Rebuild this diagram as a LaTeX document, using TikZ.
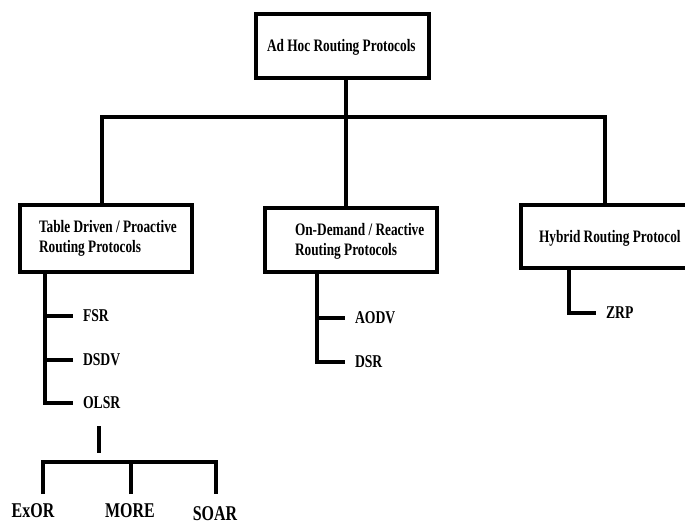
\documentclass[tikz,border=0pt]{standalone}
\usepackage{fontspec}
\setmainfont[FakeStretch=0.76]{Liberation Serif}
\begin{document}
\begin{tikzpicture}[x=1pt,y=-1pt,line width=4pt,
  box/.style={draw,line width=4pt,inner sep=0pt,fill=white},
  lbl/.style={font=\bfseries\fontsize{17.5}{20}\selectfont,inner sep=0pt,align=left},
  leaf/.style={font=\bfseries\fontsize{18}{20}\selectfont,inner ysep=0pt,inner xsep=8pt,anchor=west},
  bot/.style={font=\bfseries\fontsize{21}{24}\selectfont,inner sep=0pt,anchor=base}]
\useasboundingbox (0,0) rectangle (685,526);
\begin{scope}
\clip (0,0) rectangle (685,526);
% boxes
\node[box,minimum width=173pt,minimum height=64pt] (top) at (342,46) {};
\node[box,minimum width=172pt,minimum height=67pt] (tbl) at (106,238.5) {};
\node[box,minimum width=172pt,minimum height=64pt] (ond) at (351,240) {};
\node[box,minimum width=175pt,minimum height=63pt] (hyb) at (608.5,236.5) {};
\end{scope}
% box labels
\node[lbl,anchor=base west] (topt) at (265,52) {Ad Hoc Routing Protocols};
\node[lbl,anchor=base west] (tblt1) at (37,233) {Table Driven / Proactive};
\node[lbl,anchor=base west] (tblt2) at (37,253) {Routing Protocols};
\node[lbl,anchor=base west] (ondt1) at (293,236) {On-Demand / Reactive};
\node[lbl,anchor=base west] (ondt2) at (293,256) {Routing Protocols};
\node[lbl,anchor=base west] (hybt) at (537,243) {Hybrid Routing Protocol};
% bus
\coordinate (bl) at (102,117);
\coordinate (bm) at (346,117);
\coordinate (br) at (605,117);
\draw (top.south -| bm) -- (bm);
\draw (tbl.north -| bl) |- (br) -- (hyb.north -| br);
\draw (bm) -- (ond.north -| bm);
% left subtree
\node[leaf] (fsr) at (73,316) {FSR};
\node[leaf] (dsdv) at (73,360) {DSDV};
\node[leaf] (olsr) at (73,403) {OLSR};
\coordinate (ls) at (45,0);
\draw (tbl.south -| ls) |- (olsr.west);
\draw (fsr.west -| ls) -- (fsr.west);
\draw (dsdv.west -| ls) -- (dsdv.west);
% middle subtree
\node[leaf] (aodv) at (345,318) {AODV};
\node[leaf] (dsr) at (345,362) {DSR};
\coordinate (ms) at (317,0);
\draw (ond.south -| ms) |- (dsr.west);
\draw (aodv.west -| ms) -- (aodv.west);
% right subtree
\node[leaf] (zrp) at (596,313) {ZRP};
\coordinate (rs) at (569,0);
\draw (hyb.south -| rs) |- (zrp.west);
% OLSR sub-bus
\coordinate (o1) at (99,426);
\coordinate (o2) at (99,453);
\draw (o1) -- (o2);
\node[bot] (exor) at (33,517) {ExOR};
\node[bot] (more) at (130,517) {MORE};
\node[bot] (soar) at (215,520) {SOAR};
\coordinate (e1) at (43,494);
\coordinate (m1) at (131,494);
\coordinate (s1) at (216,494);
\coordinate (sbl) at (43,462);
\coordinate (sbr) at (216,462);
\draw (e1) -- (sbl) -- (sbr) -- (s1);
\draw (m1) -- (m1 |- sbl);
\end{tikzpicture}
\end{document}
